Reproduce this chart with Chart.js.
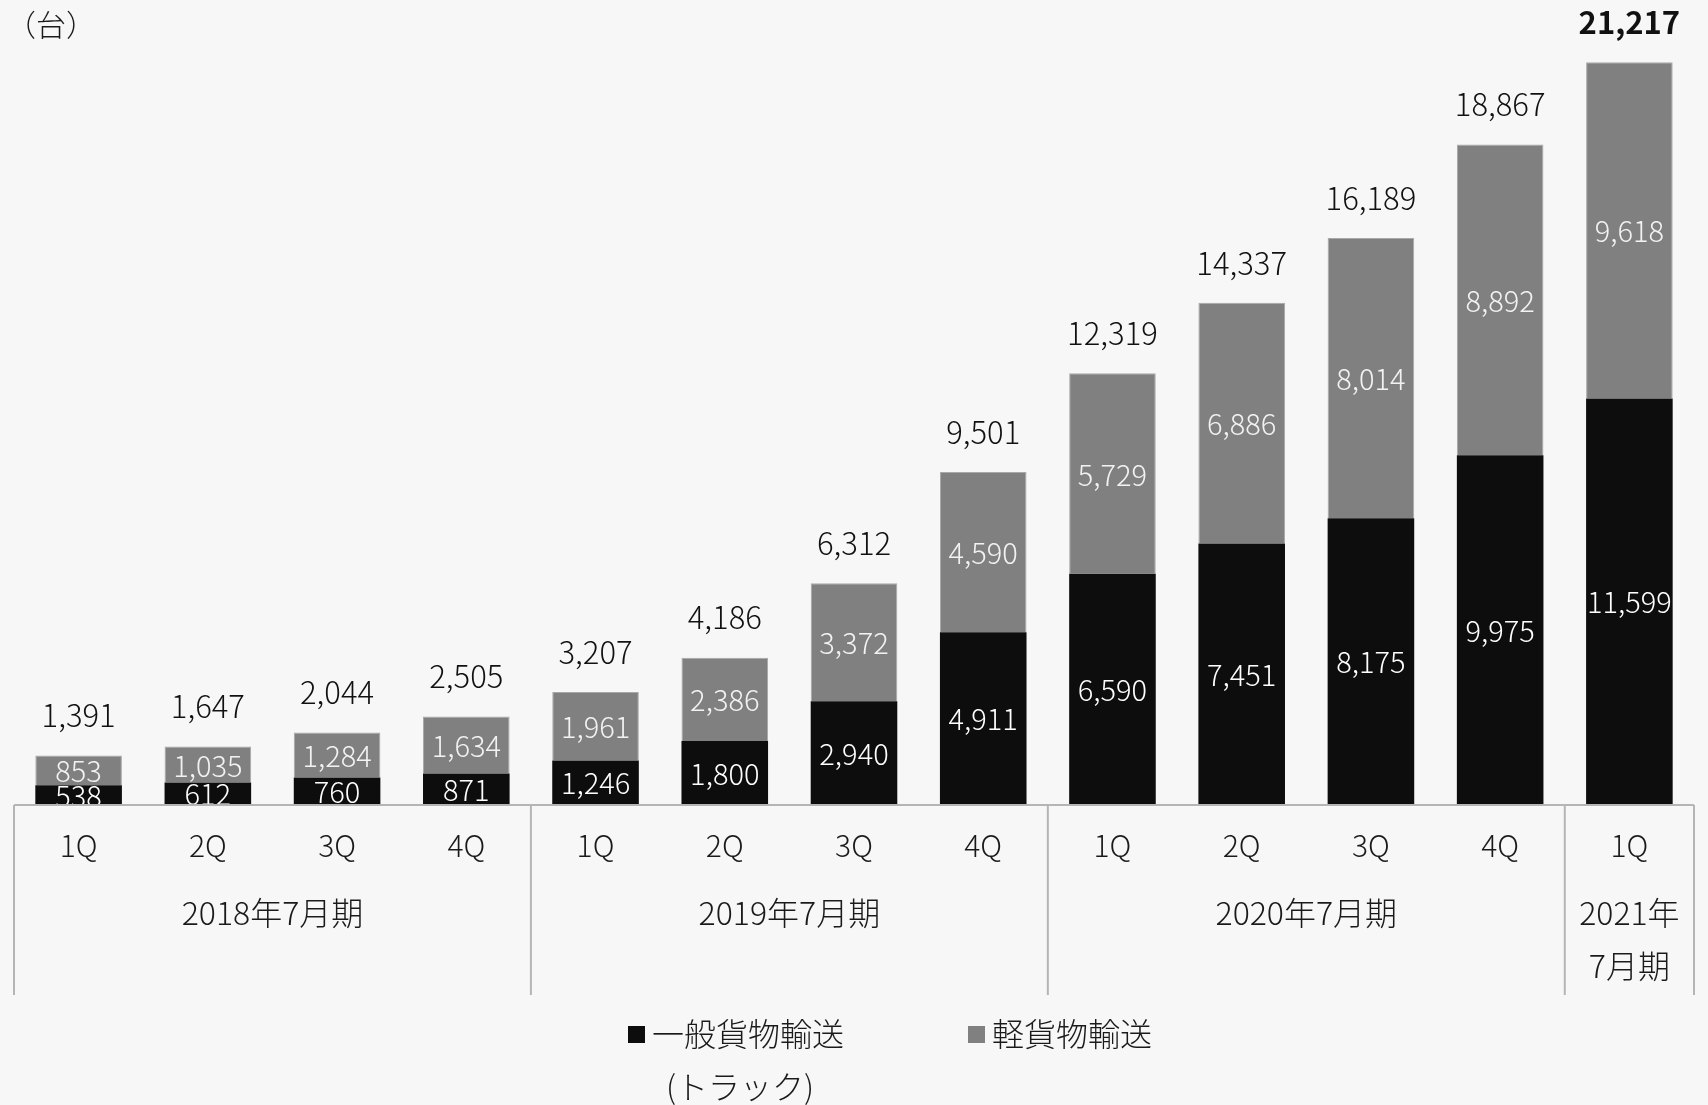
<!DOCTYPE html>
<html lang="ja">
<head>
<meta charset="utf-8">
<title>稼働台数推移</title>
<script src="https://cdn.jsdelivr.net/npm/chart.js@4.4.0/dist/chart.umd.min.js"></script>
<style>
  html, body { margin: 0; padding: 0; background: #f7f7f7; }
  #wrap { width: 1708px; height: 1105px; position: relative; }
</style>
</head>
<body>
<div id="wrap"><canvas id="chart" width="1708" height="1105"></canvas></div>
<script>
// データ
const quarters = ['1Q', '2Q', '3Q', '4Q', '1Q', '2Q', '3Q', '4Q', '1Q', '2Q', '3Q', '4Q', '1Q'];
const truck = [538, 612, 760, 871, 1246, 1800, 2940, 4911, 6590, 7451, 8175, 9975, 11599];
const light = [853, 1035, 1284, 1634, 1961, 2386, 3372, 4590, 5729, 6886, 8014, 8892, 9618];
const totals = [1391, 1647, 2044, 2505, 3207, 4186, 6312, 9501, 12319, 14337, 16189, 18867, 21217];
const periods = [['2018年7月期'], ['2019年7月期'], ['2020年7月期'], ['2021年', '7月期']];
const periodSizes = [4, 4, 4, 1];
const seriesNames = [['一般貨物輸送', '(トラック)'], ['軽貨物輸送']];
const unitLabel = '（台）';

const FONT = '"Noto Sans CJK JP", "Noto Sans", sans-serif';
const DARK = '#0d0d0d';
const GRAY = '#808080';
const LINE = '#b5b5b5';
const fmt = n => n.toLocaleString('en-US');

// ラベル・軸・凡例を描くプラグイン
const decorPlugin = {
    id: 'decor',
    afterDatasetsDraw(chart) {
        const ctx = chart.ctx;
        const x = chart.scales.x;
        const area = chart.chartArea;
        const base = area.bottom;

        ctx.save();
        ctx.textAlign = 'center';
        ctx.textBaseline = 'middle';

        // 棒の中の数値
        chart.data.datasets.forEach((ds, di) => {
            const meta = chart.getDatasetMeta(di);
            meta.data.forEach((bar, i) => {
                const mid = (bar.y + bar.base) / 2;
                ctx.fillStyle = di === 0 ? '#ffffff' : '#f2f2f2';
                ctx.font = '300 29px ' + FONT;
                ctx.fillText(fmt(ds.data[i]), bar.x, mid + 1);
            });
        });

        // 合計
        const topMeta = chart.getDatasetMeta(1);
        topMeta.data.forEach((bar, i) => {
            const last = i === totals.length - 1;
            ctx.fillStyle = '#111111';
            ctx.font = (last ? 'bold ' : '300 ') + '31px ' + FONT;
            ctx.fillText(fmt(totals[i]), bar.x, bar.y - 40);
        });

        // 軸線と区切り線
        ctx.strokeStyle = LINE;
        ctx.lineWidth = 2;
        ctx.beginPath();
        ctx.moveTo(area.left, base + 1);
        ctx.lineTo(area.right, base + 1);
        const lineBottom = 995;
        let idx = 0;
        const edges = [area.left];
        periodSizes.forEach(n => {
            idx += n;
            const right = x.getPixelForValue(idx - 1) + (x.getPixelForValue(1) - x.getPixelForValue(0)) / 2;
            edges.push(right);
        });
        edges.forEach(ex => {
            ctx.moveTo(ex, base + 1);
            ctx.lineTo(ex, lineBottom);
        });
        ctx.stroke();

        // 四半期ラベル
        ctx.fillStyle = '#1a1a1a';
        ctx.font = '300 30px ' + FONT;
        quarters.forEach((q, i) => {
            ctx.fillText(q, x.getPixelForValue(i), 846);
        });

        // 決算期ラベル
        ctx.font = '300 32px ' + FONT;
        periods.forEach((lines, p) => {
            const cx = (edges[p] + edges[p + 1]) / 2;
            lines.forEach((t, k) => {
                ctx.fillText(t, cx, 913 + k * 53);
            });
        });

        // 単位
        ctx.textAlign = 'left';
        ctx.font = '300 30px ' + FONT;
        ctx.fillText(unitLabel, 6, 25);

        // 凡例
        ctx.font = '300 32px ' + FONT;
        ctx.fillStyle = DARK;
        ctx.fillRect(628, 1026, 17, 17);
        ctx.fillStyle = '#1a1a1a';
        ctx.fillText(seriesNames[0][0], 652, 1034);
        ctx.fillText(seriesNames[0][1], 666, 1087);
        ctx.fillStyle = GRAY;
        ctx.fillRect(968, 1026, 17, 17);
        ctx.fillStyle = '#1a1a1a';
        ctx.fillText(seriesNames[1][0], 992, 1034);

        ctx.restore();
    }
};

const bgPlugin = {
    id: 'bg',
    beforeDraw(chart) {
        const ctx = chart.ctx;
        ctx.save();
        ctx.fillStyle = '#f7f7f7';
        ctx.fillRect(0, 0, chart.width, chart.height);
        ctx.restore();
    }
};

new Chart(document.getElementById('chart'), {
    type: 'bar',
    data: {
        labels: quarters.map((q, i) => i),
        datasets: [
            {
                label: seriesNames[0].join(''),
                data: truck,
                backgroundColor: DARK,
                borderWidth: 0
            },
            {
                label: seriesNames[1][0],
                data: light,
                backgroundColor: GRAY,
                borderColor: '#a8a8a8',
                borderWidth: 1
            }
        ]
    },
    options: {
        responsive: false,
        animation: false,
        layout: { padding: { left: 14, right: 14, top: 0, bottom: 301 } },
        plugins: {
            legend: { display: false },
            tooltip: { enabled: false }
        },
        datasets: {
            bar: { categoryPercentage: 1, barPercentage: 0.67 }
        },
        scales: {
            x: { stacked: true, display: false },
            y: { stacked: true, display: false, min: 0, max: 23000 }
        }
    },
    plugins: [bgPlugin, decorPlugin]
});
</script>
</body>
</html>
